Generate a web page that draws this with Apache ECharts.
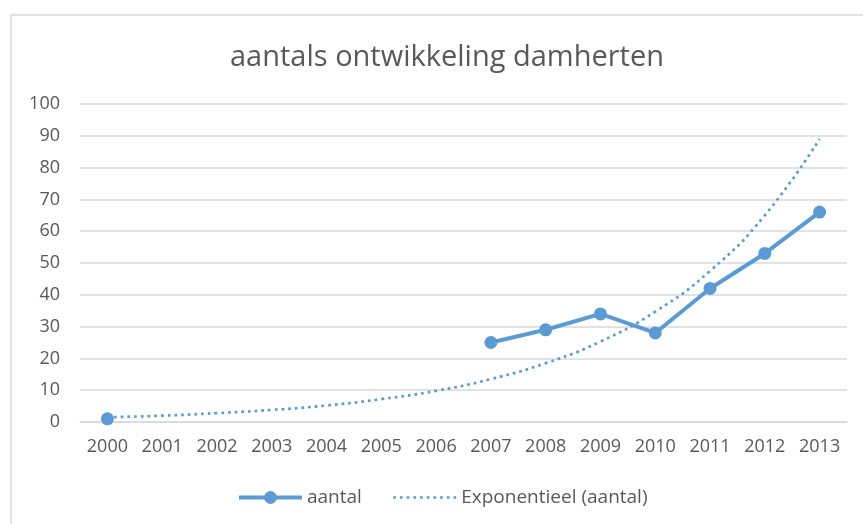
<!DOCTYPE html>
<html>
<head>
<meta charset="utf-8">
<script src="https://cdn.jsdelivr.net/npm/echarts@6/dist/echarts.min.js"></script>
<style>
  html, body { margin: 0; padding: 0; background: #fff; }
  #chart { width: 863px; height: 524px; }
</style>
</head>
<body>
<div id="chart"></div>
<script>
// categorieen (jaren)
const years = ['2000', '2001', '2002', '2003', '2004', '2005', '2006',
  '2007', '2008', '2009', '2010', '2011', '2012', '2013']
// getelde aantallen, geen telling 2001-2006
const aantal = [1, null, null, null, null, null, null, 25, 29, 34, 28, 42, 53, 66]
// exponentiele trendlijn
const trend = [1.5, 2.0, 2.8, 3.8, 5.2, 7.2, 9.8, 13.5, 18.5, 25.3, 34.7, 47.5, 65, 89]
const yTicks = { min: 0, max: 100, interval: 10 }

const blue = '#5B9BD5'
const grey = '#595959'
const font = '"Open Sans", "Noto Sans", sans-serif'

const chart = echarts.init(document.getElementById('chart'))
chart.setOption({
  animation: false,
  graphic: [{
    // kader rond de grafiek (alleen links en boven zichtbaar)
    type: 'rect',
    shape: { x: 11, y: 15, width: 900, height: 560 },
    style: { fill: 'none', stroke: '#D9D9D9', lineWidth: 1.5 },
    silent: true,
    z: -1
  }],
  title: {
    text: 'aantals ontwikkeling damherten',
    left: 225,
    top: 38,
    textStyle: { fontFamily: font, fontSize: 29, fontWeight: 'normal', color: grey }
  },
  legend: {
    bottom: 12,
    left: 232,
    itemWidth: 63,
    itemHeight: 16,
    itemGap: 30,
    textStyle: { fontFamily: font, fontSize: 19, color: grey },
    data: [{
      name: 'aantal',
      lineStyle: { width: 4 }
    }, {
      name: 'Exponentieel (aantal)',
      itemStyle: { opacity: 0 },
      lineStyle: { width: 2.7, type: [2.7, 4] }
    }]
  },
  grid: { left: 80, right: 16, top: 104, bottom: 102, containLabel: false },
  xAxis: {
    type: 'category',
    data: years,
    boundaryGap: true,
    axisLine: { lineStyle: { color: '#D9D9D9', width: 1.5 } },
    axisTick: { show: false },
    axisLabel: { margin: 16, fontFamily: font, fontSize: 18, color: grey }
  },
  yAxis: {
    type: 'value',
    min: yTicks.min,
    max: yTicks.max,
    interval: yTicks.interval,
    axisLine: { show: false },
    axisTick: { show: false },
    splitLine: { lineStyle: { color: '#D9D9D9', width: 1.5 } },
    axisLabel: { margin: 20, fontFamily: font, fontSize: 18, color: grey }
  },
  series: [{
    name: 'aantal',
    type: 'line',
    data: aantal,
    connectNulls: false,
    symbol: 'circle',
    symbolSize: 13,
    showSymbol: true,
    itemStyle: { color: blue },
    lineStyle: { color: blue, width: 4 },
    z: 3
  }, {
    name: 'Exponentieel (aantal)',
    type: 'line',
    data: trend,
    smooth: true,
    symbol: 'none',
    itemStyle: { color: blue },
    lineStyle: { color: blue, width: 2.7, type: [2.7, 4] },
    z: 2
  }]
})
</script>
</body>
</html>
